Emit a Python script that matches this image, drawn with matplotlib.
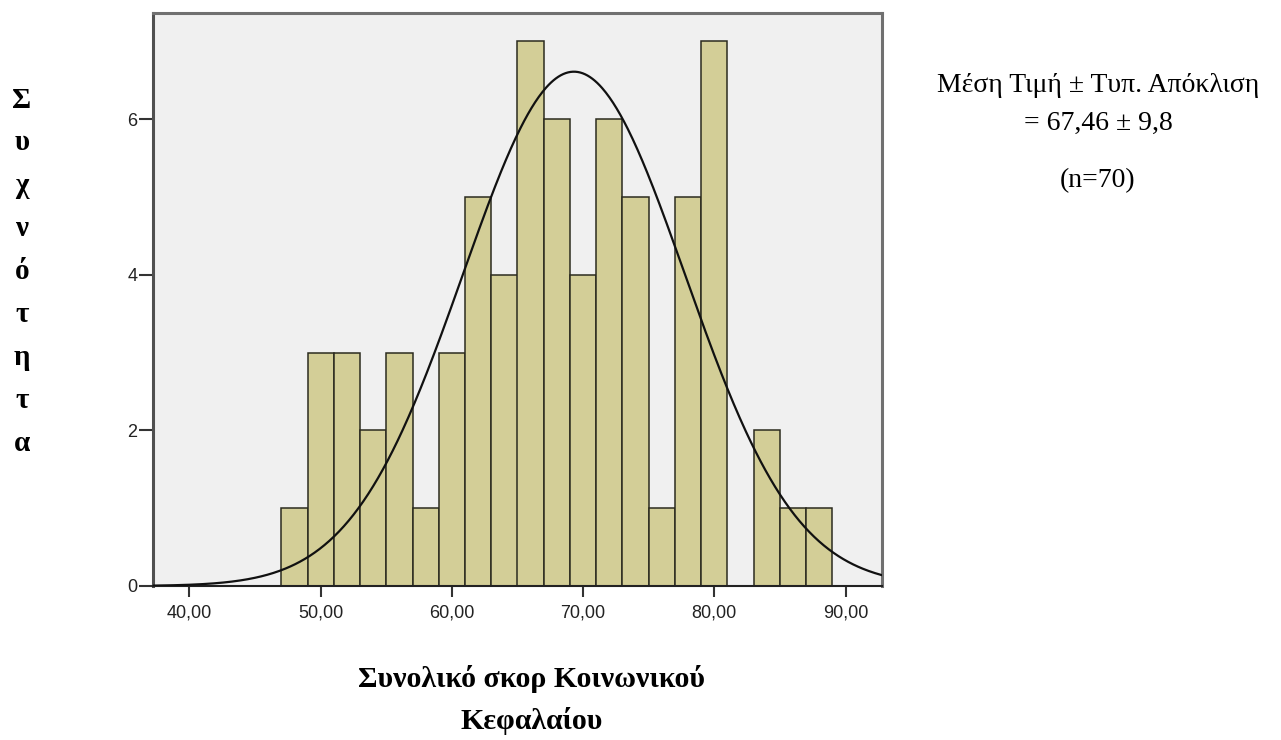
import numpy as np
import matplotlib
matplotlib.use("Agg")
import matplotlib.pyplot as plt

# Histogram of the total social capital score (bin width 2, starting at 47)
bin_edges = [47, 49, 51, 53, 55, 57, 59, 61, 63, 65, 67, 69, 71, 73, 75, 77, 79, 81, 83, 85, 87, 89]
counts = [1, 3, 3, 2, 3, 1, 3, 5, 4, 7, 6, 4, 6, 5, 1, 5, 7, 0, 2, 1, 1]

# Normal curve overlaid on the histogram
curve_mean = 69.3
curve_sd = 8.45
n_total = 70
bin_width = 2

x_ticks = [40, 50, 60, 70, 80, 90]
x_tick_labels = ["40,00", "50,00", "60,00", "70,00", "80,00", "90,00"]
y_ticks = [0, 2, 4, 6]

ylabel_text = "Συχνότητα"
xlabel_lines = ["Συνολικό σκορ Κοινωνικού", "Κεφαλαίου"]
stats_lines = ["Μέση Τιμή ± Τυπ. Απόκλιση", "= 67,46 ± 9,8", "(n=70)"]

W, H = 1281, 740
fig = plt.figure(figsize=(W / 100, H / 100), dpi=100)
fig.patch.set_facecolor("white")

left, right, top, bottom = 152.7, 882.3, 13.3, 586.0
ax = fig.add_axes([left / W, 1 - bottom / H, (right - left) / W, (bottom - top) / H])
ax.set_facecolor("#F0F0F0")

ax.bar(bin_edges[:-1], counts, width=np.diff(bin_edges), align="edge",
       color="#D3CE97", edgecolor="#2b2b1f", linewidth=1.1, zorder=2)

xs = np.linspace(37.2, 92.8, 600)
peak = n_total * bin_width / (curve_sd * np.sqrt(2 * np.pi))
ys = peak * np.exp(-0.5 * ((xs - curve_mean) / curve_sd) ** 2)
ax.plot(xs, ys, color="#111111", linewidth=1.6, zorder=3)

ax.set_xlim(37.2, 92.8)
ax.set_ylim(0, 7.36)
ax.set_xticks(x_ticks)
ax.set_xticklabels(x_tick_labels)
ax.set_yticks(y_ticks)

for lab in ax.get_xticklabels() + ax.get_yticklabels():
    lab.set_fontfamily("Liberation Sans")
    lab.set_fontsize(13)
    lab.set_color("#222222")
ax.tick_params(axis="x", direction="out", length=8, width=1.5, pad=5, color="#333333")
ax.tick_params(axis="y", direction="out", length=10, width=1.5, pad=1, color="#333333")

for side in ["top", "right"]:
    ax.spines[side].set_color("#707070")
    ax.spines[side].set_linewidth(2.2)
ax.spines["left"].set_color("#505050")
ax.spines["left"].set_linewidth(2.2)
ax.spines["bottom"].set_color("#222222")
ax.spines["bottom"].set_linewidth(1.5)

# Vertical, letter-by-letter y-axis title
y0, step = 100, 42.9
for i, ch in enumerate(ylabel_text):
    fig.text(22 / W, 1 - (y0 + i * step) / H, ch, ha="center", va="center",
             family="Liberation Serif", fontweight="bold", fontsize=21)

# Two-line x-axis title
for i, line in enumerate(xlabel_lines):
    fig.text(532 / W, 1 - (679 + i * 42) / H, line, ha="center", va="center",
             family="Liberation Serif", fontweight="bold", fontsize=21.5)

# Summary statistics
for line, yy in zip(stats_lines, [85, 123, 181]):
    fig.text(1098 / W, 1 - yy / H, line, ha="center", va="center",
             family="Liberation Serif", fontsize=20)

fig.savefig("out.png", dpi=100)
